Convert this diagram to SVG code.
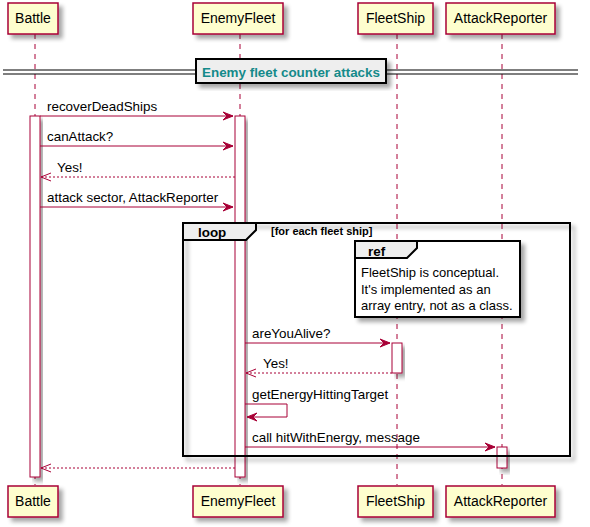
<svg xmlns="http://www.w3.org/2000/svg" width="590" height="527" viewBox="0 0 590 527">
<defs>
<filter id="sh" x="-20%" y="-20%" width="150%" height="150%">
<feGaussianBlur in="SourceAlpha" stdDeviation="2"/>
<feOffset dx="4" dy="4" result="b"/>
<feComponentTransfer><feFuncA type="linear" slope="0.35"/></feComponentTransfer>
<feMerge><feMergeNode/><feMergeNode in="SourceGraphic"/></feMerge>
</filter>
</defs>
<style>
.part rect{fill:#FEFECE;stroke:#A80036;stroke-width:1.5}
.pt{font-family:"Liberation Sans",Arial,sans-serif;font-size:14px;fill:#000;text-anchor:middle}
.life{stroke:#A80036;stroke-width:1;stroke-dasharray:5,5}
.act{fill:#FFFFFF;stroke:#A80036;stroke-width:1}
.msg{stroke:#A80036;stroke-width:1;fill:none}
.dash{stroke-dasharray:2,2}
.head{fill:#A80036;stroke:#A80036;stroke-width:1}
.ml{font-family:"Liberation Sans",Arial,sans-serif;font-size:13.4px;fill:#000}
.nt{font-family:"Liberation Sans",Arial,sans-serif;font-size:13px;fill:#000}
.b{font-weight:bold}
.frame{fill:none;stroke:#000;stroke-width:2}
.tab{fill:#EEEEEE;stroke:#000;stroke-width:2}
</style>
<g id="lifelines">
<line class="life" x1="35" y1="34" x2="35" y2="485"/>
<line class="life" x1="240" y1="34" x2="240" y2="485"/>
<line class="life" x1="397" y1="34" x2="397" y2="485"/>
<line class="life" x1="502" y1="34" x2="502" y2="485"/>
</g>
<g id="divider">
<line x1="3" y1="70" x2="578" y2="70" stroke="#000" stroke-width="1.2"/>
<line x1="3" y1="74" x2="578" y2="74" stroke="#000" stroke-width="1.2"/>
<rect x="196" y="59" width="190" height="24" fill="#EEEEEE" stroke="#000" stroke-width="2" filter="url(#sh)"/>
<text class="ml b" x="291" y="77" text-anchor="middle" style="fill:#148A8A">Enemy fleet counter attacks</text>
</g>
<g id="activations">
<rect class="act" x="30" y="116" width="10" height="361" filter="url(#sh)"/>
<rect class="act" x="235" y="116" width="10" height="361" filter="url(#sh)"/>
<rect class="act" x="392" y="343" width="10" height="30" filter="url(#sh)"/>
<rect class="act" x="497" y="447" width="10" height="21" filter="url(#sh)"/>
</g>
<g id="loop">
<rect class="frame" x="183" y="223" width="387" height="233" filter="url(#sh)"/>
<polygon class="tab" points="183,223 256,223 256,230 246,240 183,240"/>
<rect x="183" y="223" width="387" height="233" fill="none" stroke="#000" stroke-width="2"/>
<text class="ml b" x="198" y="237">loop</text>
<text class="ml b" x="271" y="235" style="font-size:11px">[for each fleet ship]</text>
</g>
<g id="ref">
<rect x="355" y="241" width="165" height="76" fill="#FFFFFF" stroke="#000" stroke-width="2" filter="url(#sh)"/>
<polygon class="tab" points="355,241 417,241 417,248 407,258 355,258"/>
<text class="ml b" x="368" y="256">ref</text>
<text class="nt" x="361" y="277">FleetShip is conceptual.</text>
<text class="nt" x="361" y="294">It's implemented as an</text>
<text class="nt" x="361" y="310">array entry, not as a class.</text>
</g>
<g id="connectors">
<line class="msg" x1="40" y1="116" x2="233" y2="116"/>
<polygon class="head" points="223,112 233,116 223,120 227,116"/>
<text class="ml" x="47" y="111">recoverDeadShips</text>

<line class="msg" x1="40" y1="146" x2="233" y2="146"/>
<polygon class="head" points="223,142 233,146 223,150 227,146"/>
<text class="ml" x="47" y="141">canAttack?</text>

<line class="msg dash" x1="41" y1="177" x2="235" y2="177"/>
<polyline class="msg" points="51,173 41,177 51,181"/>
<text class="ml" x="57" y="172">Yes!</text>

<line class="msg" x1="40" y1="207" x2="233" y2="207"/>
<polygon class="head" points="223,203 233,207 223,211 227,207"/>
<text class="ml" x="47" y="202">attack sector, AttackReporter</text>

<line class="msg" x1="245" y1="343" x2="390" y2="343"/>
<polygon class="head" points="380,339 390,343 380,347 384,343"/>
<text class="ml" x="252" y="338">areYouAlive?</text>

<line class="msg dash" x1="246" y1="373" x2="392" y2="373"/>
<polyline class="msg" points="256,369 246,373 256,377"/>
<text class="ml" x="263" y="368">Yes!</text>

<polyline class="msg" points="245,404 287,404 287,417 247,417"/>
<polygon class="head" points="257,413 247,417 257,421 253,417"/>
<text class="ml" x="252" y="399">getEnergyHittingTarget</text>

<line class="msg" x1="245" y1="447" x2="495" y2="447"/>
<polygon class="head" points="485,443 495,447 485,451 489,447"/>
<text class="ml" x="252" y="442">call hitWithEnergy, message</text>

<line class="msg dash" x1="41" y1="468" x2="235" y2="468"/>
<polyline class="msg" points="51,464 41,468 51,472"/>
</g>
<g id="p-battle" class="part">
<rect x="8" y="3" width="50" height="31" filter="url(#sh)"/>
<text class="pt" x="33" y="23">Battle</text>
<rect x="8" y="486" width="50" height="31" filter="url(#sh)"/>
<text class="pt" x="33" y="506">Battle</text>
</g>
<g id="p-enemyfleet" class="part">
<rect x="193" y="3" width="90" height="31" filter="url(#sh)"/>
<text class="pt" x="238" y="23">EnemyFleet</text>
<rect x="193" y="486" width="90" height="31" filter="url(#sh)"/>
<text class="pt" x="238" y="506">EnemyFleet</text>
</g>
<g id="p-fleetship" class="part">
<rect x="358" y="3" width="75" height="31" filter="url(#sh)"/>
<text class="pt" x="395.5" y="23">FleetShip</text>
<rect x="358" y="486" width="75" height="31" filter="url(#sh)"/>
<text class="pt" x="395.5" y="506">FleetShip</text>
</g>
<g id="p-attackreporter" class="part">
<rect x="446" y="3" width="109" height="31" filter="url(#sh)"/>
<text class="pt" x="500.5" y="23">AttackReporter</text>
<rect x="446" y="486" width="109" height="31" filter="url(#sh)"/>
<text class="pt" x="500.5" y="506">AttackReporter</text>
</g>
</svg>
